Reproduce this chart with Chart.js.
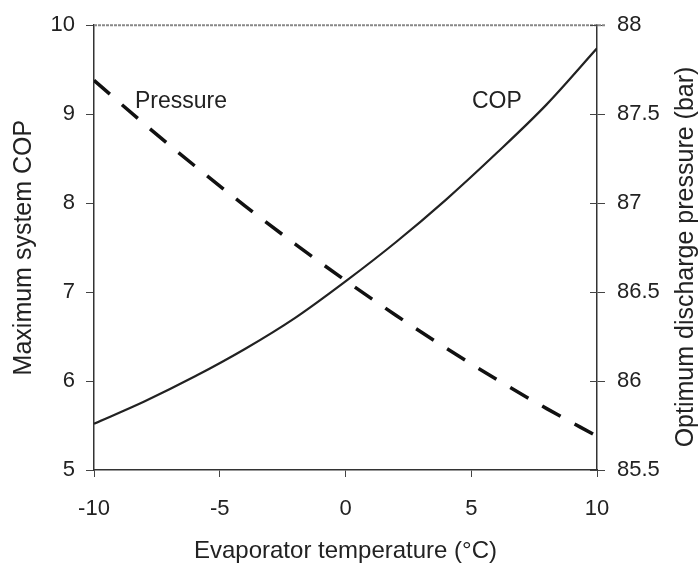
<!DOCTYPE html>
<html><head><meta charset="utf-8">
<script src="https://cdn.jsdelivr.net/npm/chart.js@4"></script>
<style>html,body{margin:0;padding:0;background:#fff}</style>
</head><body>
<canvas id="c" width="699" height="567"></canvas>
<script>
// ---- data ----
const temps = [-10, -8, -6, -4, -2, 0, 2, 4, 6, 8, 10];
const copValues = [5.52, 5.77, 6.05, 6.36, 6.71, 7.12, 7.56, 8.04, 8.56, 9.11, 9.74];
const pressureValues = [87.69, 87.445, 87.21, 86.985, 86.77, 86.565, 86.37, 86.185, 86.01, 85.845, 85.69];
const xTicks = [-10, -5, 0, 5, 10];
const copTicks = [5, 6, 7, 8, 9, 10];
const pressureTicks = [85.5, 86, 86.5, 87, 87.5, 88];
const seriesNames = ['COP', 'Pressure'];
const xTitle = 'Evaporator temperature (°C)';
const yTitle = 'Maximum system COP';
const y2Title = 'Optimum discharge pressure (bar)';
// label anchors (data coordinates: temperature, COP)
const labelAnchors = { Pressure: [-8.37, 9.135], COP: [5.03, 9.135] };

const FONT = "'Liberation Sans', Arial, sans-serif";
const INK = '#222';
const AXIS = '#333';

const decor = {
  id: 'decor',
  afterDraw(chart) {
    const { ctx, chartArea: a, scales } = chart;
    ctx.save();
    // top frame line
    ctx.strokeStyle = '#888';
    ctx.lineWidth = 2;
    ctx.setLineDash([3, 1]);
    ctx.beginPath();
    ctx.moveTo(a.left, a.top);
    ctx.lineTo(a.right + 8, a.top);
    ctx.stroke();
    ctx.setLineDash([]);
    // inner half of right ticks
    ctx.strokeStyle = '#444';
    ctx.lineWidth = 1;
    scales.y2.ticks.forEach(t => {
      const py = Math.round(scales.y2.getPixelForValue(t.value)) + 0.5;
      ctx.beginPath();
      ctx.moveTo(a.right - 7, py);
      ctx.lineTo(a.right, py);
      ctx.stroke();
    });
    // right title (reads bottom to top)
    ctx.fillStyle = INK;
    ctx.font = '25px ' + FONT;
    ctx.textAlign = 'center';
    ctx.textBaseline = 'middle';
    ctx.translate(686, 257);
    ctx.rotate(-Math.PI / 2);
    ctx.fillText(y2Title, 0, 0);
    ctx.restore();
    // series labels
    ctx.save();
    ctx.fillStyle = INK;
    ctx.font = '23px ' + FONT;
    ctx.textAlign = 'left';
    ctx.textBaseline = 'middle';
    seriesNames.forEach(n => {
      const [tx, ty] = labelAnchors[n];
      ctx.fillText(n, scales.x.getPixelForValue(tx), scales.y.getPixelForValue(ty));
    });
    ctx.restore();
  }
};

new Chart(document.getElementById('c'), {
  type: 'line',
  data: {
    datasets: [
      {
        label: seriesNames[0],
        data: temps.map((t, i) => ({ x: t, y: copValues[i] })),
        yAxisID: 'y',
        borderColor: '#222',
        borderWidth: 2.2,
        pointRadius: 0,
        cubicInterpolationMode: 'monotone'
      },
      {
        label: seriesNames[1],
        data: temps.map((t, i) => ({ x: t, y: pressureValues[i] })),
        yAxisID: 'y2',
        borderColor: '#111',
        borderWidth: 3.5,
        borderDash: [21, 16],
        pointRadius: 0,
        cubicInterpolationMode: 'monotone'
      }
    ]
  },
  options: {
    responsive: false,
    animation: false,
    devicePixelRatio: 1,
    layout: { padding: { top: 19, left: 0, right: 0, bottom: 0 } },
    plugins: { legend: { display: false }, tooltip: { enabled: false } },
    scales: {
      x: {
        type: 'linear', min: -10, max: 10,
        afterBuildTicks: s => { s.ticks = xTicks.map(v => ({ value: v })); },
        grid: { drawOnChartArea: false, tickLength: 7, color: '#444' },
        border: { color: AXIS, width: 1.5 },
        ticks: { font: { family: FONT, size: 22 }, color: INK, padding: 19, maxRotation: 0, callback: v => String(v) },
        title: { display: true, text: xTitle, font: { family: FONT, size: 24 }, color: INK, padding: { top: 0, bottom: 1 } },
        afterFit: s => { s.height = 97; }
      },
      y: {
        position: 'left', min: 5, max: 10,
        afterBuildTicks: s => { s.ticks = copTicks.map(v => ({ value: v })); },
        grid: { drawOnChartArea: false, tickLength: 8, color: '#444' },
        border: { color: AXIS, width: 1.5 },
        ticks: { font: { family: FONT, size: 22 }, color: INK, padding: 11, callback: v => String(v) },
        title: { display: true, text: yTitle, font: { family: FONT, size: 25 }, color: INK, padding: { top: 9, bottom: 0 } },
        afterFit: s => { s.width = 94; }
      },
      y2: {
        position: 'right', min: 85.5, max: 88,
        afterBuildTicks: s => { s.ticks = pressureTicks.map(v => ({ value: v })); },
        grid: { drawOnChartArea: false, tickLength: 8, color: '#444' },
        border: { color: AXIS, width: 1.5 },
        ticks: { font: { family: FONT, size: 22 }, color: INK, padding: 12, callback: v => String(v) },
        title: { display: false },
        afterFit: s => { s.width = 102; }
      }
    }
  },
  plugins: [decor]
});
</script>
</body></html>
